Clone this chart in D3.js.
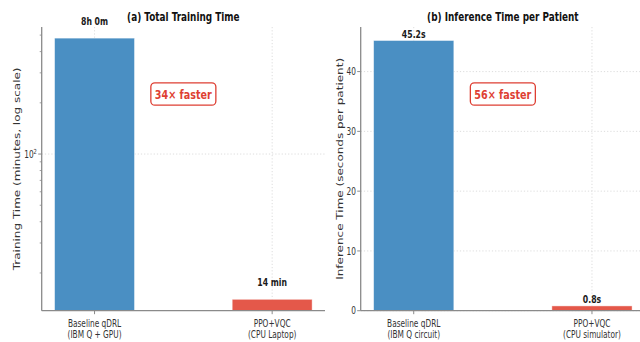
<!DOCTYPE html>
<html>
<head>
<meta charset="utf-8">
<script src="https://cdn.jsdelivr.net/npm/d3@7/dist/d3.min.js"></script>
<style>
  html, body { margin: 0; padding: 0; background: #fff; }
  svg { display: block; }
  text { font-family: "DejaVu Sans", sans-serif; }
</style>
</head>
<body>
<svg id="chart" width="640" height="342"></svg>
<script>
// ---- data ----
const trainCategories = ["Baseline qDRL\n(IBM Q + GPU)", "PPO+VQC\n(CPU Laptop)"];
const trainMinutes = [480, 14];
const trainLabels = ["8h 0m", "14 min"];

const inferCategories = ["Baseline qDRL\n(IBM Q circuit)", "PPO+VQC\n(CPU simulator)"];
const inferSeconds = [45.2, 0.8];
const inferLabels = ["45.2s", "0.8s"];

const speedups = ["34\u00d7 faster", "56\u00d7 faster"];
const panelTitles = ["(a) Total Training Time", "(b) Inference Time per Patient"];
const yAxisTitles = ["Training Time (minutes, log scale)", "Inference Time (seconds per patient)"];
const inferTicks = [0, 10, 20, 30, 40];
const trainLogLimits = [12, 558];

// ---- style ----
const SX = 0.74;              // horizontal squeeze applied to glyphs
const BLUE = "#4a8fc3";
const RED = "#e4584a";
const ACCENT = "#de3f33";
const SPINE = "#8a8a8a";
const GRID = "#d4d4d4";

const svg = d3.select("#chart");
const plotTop = 27, plotBottom = 310.7;

function squashedText(g, x, y, str, opts = {}) {
  const t = g.append("text")
    .attr("transform", `translate(${x},${y}) scale(${SX},1)` + (opts.rotate ? ` rotate(${opts.rotate})` : ""))
    .attr("text-anchor", opts.anchor || "middle")
    .attr("font-size", opts.size || 10)
    .attr("font-weight", opts.weight || "normal")
    .attr("fill", opts.fill || "#222")
    .text(str);
  return t;
}

function panel(cfg) {
  const g = svg.append("g");
  const x = d3.scaleBand()
    .domain(cfg.categories)
    .range([cfg.x0, cfg.x1])
    .paddingInner(0.55)
    .paddingOuter(0.0725);
  const y = cfg.y;

  // grid
  const grid = g.append("g")
    .attr("stroke", GRID).attr("stroke-width", 0.8).attr("stroke-dasharray", "1.2,2");
  grid.selectAll("line.v").data(cfg.categories).join("line")
    .attr("x1", d => x(d) + x.bandwidth() / 2).attr("x2", d => x(d) + x.bandwidth() / 2)
    .attr("y1", plotTop).attr("y2", plotBottom);
  grid.selectAll("line.h").data(cfg.gridTicks).join("line")
    .attr("x1", cfg.x0).attr("x2", cfg.x1)
    .attr("y1", d => y(d)).attr("y2", d => y(d));

  // bars
  g.selectAll("rect.bar").data(cfg.values).join("rect")
    .attr("x", (d, i) => x(cfg.categories[i]))
    .attr("width", x.bandwidth())
    .attr("y", d => y(d))
    .attr("height", d => plotBottom - y(d))
    .attr("fill", (d, i) => i === 0 ? BLUE : RED)
    .attr("stroke", "rgba(255,255,255,0.55)")
    .attr("stroke-width", 0.8);

  // value labels
  cfg.values.forEach((v, i) => {
    squashedText(g, x(cfg.categories[i]) + x.bandwidth() / 2, cfg.labelY(v), cfg.labels[i],
      { size: 10.5, weight: "bold", fill: "#1a1a1a" });
  });

  // y axis
  const yAxis = g.append("g").attr("transform", `translate(${cfg.x0},0)`);
  yAxis.append("line").attr("x1", 0).attr("x2", 0).attr("y1", plotTop).attr("y2", plotBottom)
    .attr("stroke", SPINE).attr("stroke-width", 1.3);
  cfg.majorTicks.forEach(t => {
    yAxis.append("line").attr("x1", -3.5).attr("x2", 0).attr("y1", y(t)).attr("y2", y(t))
      .attr("stroke", SPINE).attr("stroke-width", 1);
    const lab = squashedText(yAxis, -4.8, y(t) + 3.6, "", { anchor: "end", size: 10, fill: "#333" });
    cfg.tickText(lab, t);
  });
  (cfg.minorTicks || []).forEach(t => {
    yAxis.append("line").attr("x1", -2).attr("x2", 0).attr("y1", y(t)).attr("y2", y(t))
      .attr("stroke", SPINE).attr("stroke-width", 0.8);
  });

  // x axis
  const xAxis = g.append("g").attr("transform", `translate(0,${plotBottom})`);
  xAxis.append("line").attr("x1", cfg.x0).attr("x2", cfg.x1).attr("y1", 0).attr("y2", 0)
    .attr("stroke", SPINE).attr("stroke-width", 1.3);
  cfg.categories.forEach(c => {
    const cx = x(c) + x.bandwidth() / 2;
    xAxis.append("line").attr("x1", cx).attr("x2", cx).attr("y1", 0).attr("y2", 3.5)
      .attr("stroke", SPINE).attr("stroke-width", 1);
    const lines = c.split("\n");
    lines.forEach((ln, k) => {
      squashedText(xAxis, cx, 16.5 + k * 11, ln, { size: 10, fill: "#333" });
    });
  });

  // titles
  const cxAxes = (cfg.x0 + cfg.x1) / 2;
  squashedText(g, cxAxes, 20.5, cfg.title, { size: 12, weight: "bold", fill: "#111" });
  squashedText(g, cfg.ylabelX, (plotTop + plotBottom) / 2, cfg.ylabel,
    { size: 12, fill: "#333", rotate: -90 });

  // speed-up callout
  const callY = 94;
  const box = g.append("rect");
  const ct = squashedText(g, cxAxes, callY + 4.6, cfg.speedup, { size: 13, weight: "bold", fill: ACCENT });
  const w = ct.node().getComputedTextLength() * SX + 8;
  box.attr("x", cxAxes - w / 2).attr("y", callY - 11.2).attr("width", w).attr("height", 22.4)
    .attr("rx", 4).attr("fill", "#fff").attr("stroke", ACCENT).attr("stroke-width", 1.3);
}

// (a) training time, log scale
const yTrain = d3.scaleLog().domain(trainLogLimits).range([plotBottom, plotTop]);
const trainMinor = [20, 30, 40, 50, 60, 70, 80, 90, 200, 300, 400, 500];
panel({
  categories: trainCategories, values: trainMinutes, labels: trainLabels,
  x0: 41.7, x1: 325, y: yTrain,
  gridTicks: [100], majorTicks: [100], minorTicks: trainMinor,
  tickText: (t, v) => {
    t.append("tspan").text("10");
    t.append("tspan").attr("dy", -4).attr("font-size", 7).text("2");
  },
  labelY: v => yTrain(v * 1.2),
  title: panelTitles[0], ylabel: yAxisTitles[0], ylabelX: 20,
  speedup: speedups[0]
});

// (b) inference time, linear scale
const yInfer = d3.scaleLinear().domain([0, d3.max(inferSeconds) * 1.05]).range([plotBottom, plotTop]);
panel({
  categories: inferCategories, values: inferSeconds, labels: inferLabels,
  x0: 360.7, x1: 645, y: yInfer,
  gridTicks: inferTicks, majorTicks: inferTicks, minorTicks: [],
  tickText: (t, v) => t.text(d3.format("d")(v)),
  labelY: v => yInfer(v) - 2.8,
  title: panelTitles[1], ylabel: yAxisTitles[1], ylabelX: 343,
  speedup: speedups[1]
});
</script>
</body>
</html>
